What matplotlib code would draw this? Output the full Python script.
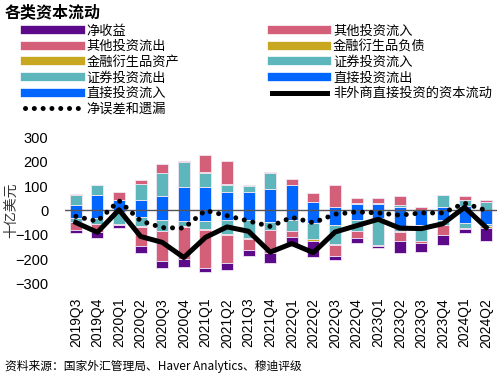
import numpy as np
import matplotlib
matplotlib.use("Agg")
import matplotlib.pyplot as plt
from matplotlib.lines import Line2D

plt.rcParams['font.family'] = ['Liberation Sans', 'Noto Sans CJK SC', 'DejaVu Sans']

# trimestres
quarters = ['2019Q3', '2019Q4', '2020Q1', '2020Q2', '2020Q3', '2020Q4',
            '2021Q1', '2021Q2', '2021Q3', '2021Q4', '2022Q1', '2022Q2',
            '2022Q3', '2022Q4', '2023Q1', '2023Q2', '2023Q3', '2023Q4',
            '2024Q1', '2024Q2']

# flux positifs (empiles vers le haut)
dir_in = [21, 62, 42, 43, 59, 94, 94, 76, 76, 89, 105, 36, 15, 28, 25, 13, 3, 15, 20, 0]
port_in = [44, 41, 0, 65, 94, 103, 58, 30, 23, 65, 0, 0, 0, 4, 5, 10, 0, 47, 23, 36]
deriv_liab = [4, 0, 0, 0, 0, 0, 4, 4, 4, 3, 0, 0, 0, 0, 0, 0, 0, 3, 0, 0]
other_in = [0, 0, 35, 16, 36, 5, 70, 92, 0, 0, 22, 34, 89, 18, 20, 35, 12, 0, 18, 7]

# flux negatifs (empiles vers le bas)
dir_out = [-32, -30, -5, -25, -37, -44, -44, -37, -37, -48, -40, -52, -58, -37, -30, -65, -60, -40, -50, -55]
port_out = [-15, -25, -50, -40, -45, -20, -32, -59, -76, -30, -42, -65, -78, -45, -110, -20, -63, -18, -20, -10]
deriv_asset = [-2, -2, -3, -3, -2, -2, -2, -2, -3, -2, -2, -6, -4, -2, -3, -3, -3, -2, -2, -5]
other_out = [-31, -30, -2, -75, -124, -130, -158, -117, -45, -94, -23, 0, -44, -30, -2, -35, -8, -41, -3, -3]
net_income = [-12, -25, -13, -30, -25, -34, -16, -27, -23, -40, -37, -68, -17, -18, -7, -50, -34, -38, -18, -50]

# lignes
errors = [-24, -44, 40, -42, -70, -72, 0, -21, -43, -65, -28, -50, -15, -6, -10, -19, -10, -10, 30, 0]
non_fdi = [-49, -89, 3, -106, -130, -192, -110, -67, -85, -170, -135, -172, -88, -62, -36, -72, -74, -54, 13, -69]

# couleurs
c_purple = '#5c0a8a'
c_pink = '#d45f78'
c_gold = '#c8a820'
c_teal = '#5db6bc'
c_blue = '#0066ff'
edge = '#efe6f5'

x = np.arange(len(quarters))
w = 0.56

fig = plt.figure(figsize=(5.04, 3.79), dpi=100)
ax = fig.add_axes([0.129, 0.2507, 0.857, 0.3878])

bottom = np.zeros(len(x))
for vals, col in [(dir_in, c_blue), (port_in, c_teal), (deriv_liab, c_gold), (other_in, c_pink)]:
    ax.bar(x, vals, w, bottom=bottom, color=col, edgecolor=edge, linewidth=0.6)
    bottom = bottom + np.array(vals)

bottom = np.zeros(len(x))
for vals, col in [(dir_out, c_blue), (port_out, c_teal), (deriv_asset, c_gold),
                  (other_out, c_pink), (net_income, c_purple)]:
    ax.bar(x, vals, w, bottom=bottom, color=col, edgecolor=edge, linewidth=0.6)
    bottom = bottom + np.array(vals)

ax.axhline(0, color='#555555', linewidth=1, zorder=2)
ax.plot(x, errors, color='black', linewidth=3.6, linestyle=(0, (0.01, 1.75)),
        dash_capstyle='round', zorder=4)
ax.plot(x, non_fdi, color='black', linewidth=3.6, zorder=5)

ax.set_xlim(-0.5, len(x) - 0.5)
ax.set_ylim(-300, 300)
ax.set_yticks([300, 200, 100, 0, -100, -200, -300])
ax.tick_params(axis='y', labelsize=10.5, length=0, pad=12)
ax.set_xticks(x)
ax.set_xticklabels(quarters, rotation=90, fontsize=10)
ax.tick_params(axis='x', length=0, pad=10)
for s in ax.spines.values():
    s.set_visible(False)
ax.set_ylabel('十亿美元', fontsize=10, color='#333333', labelpad=-2)

# legende
handles = [
    Line2D([], [], color=c_purple, lw=6),
    Line2D([], [], color=c_pink, lw=6),
    Line2D([], [], color=c_gold, lw=6),
    Line2D([], [], color=c_teal, lw=6),
    Line2D([], [], color=c_blue, lw=6),
    Line2D([], [], color='black', lw=3.6, linestyle=(0, (0.01, 1.75)), dash_capstyle='round'),
    Line2D([], [], color=c_pink, lw=6),
    Line2D([], [], color=c_gold, lw=6),
    Line2D([], [], color=c_teal, lw=6),
    Line2D([], [], color=c_blue, lw=6),
    Line2D([], [], color='black', lw=3.6),
]
labels = ['净收益', '其他投资流出', '金融衍生品资产', '证券投资流出', '直接投资流入', '净误差和遗漏',
          '其他投资流入', '金融衍生品负债', '证券投资流入', '直接投资流出', '非外商直接投资的资本流动']
fig.legend(handles, labels, loc='upper left', bbox_to_anchor=(0.05, 0.935), ncol=2,
           frameon=False, handlelength=4.2, handletextpad=0.45,
           labelspacing=0.2, columnspacing=7.0, borderaxespad=0, borderpad=0,
           prop={'family': 'Noto Sans CJK SC', 'size': 9.5})

fig.text(0.01, 0.968, '各类资本流动', fontsize=11.5, fontweight='bold',
         family='Noto Sans CJK SC', va='center')
fig.text(0.01, 0.032, '资料来源：国家外汇管理局、Haver Analytics、穆迪评级', fontsize=8.5,
         family=['Noto Sans CJK SC', 'DejaVu Sans'], va='center')

fig.savefig('out.png', dpi=100)
